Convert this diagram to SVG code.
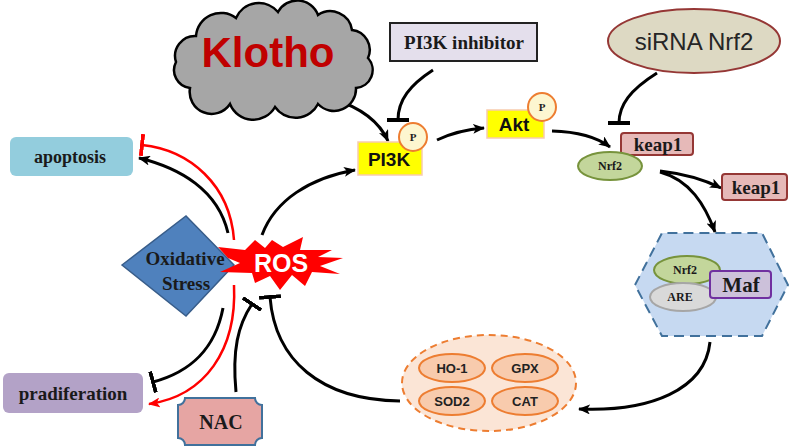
<svg xmlns="http://www.w3.org/2000/svg" width="800" height="447" viewBox="0 0 800 447">
<defs>
<style>
.serif{font-family:"Liberation Serif","DejaVu Serif",serif;font-weight:bold;fill:#1a1a1a;text-anchor:middle}
.sans{font-family:"Liberation Sans","DejaVu Sans",sans-serif;text-anchor:middle}
.con{fill:none;stroke:#000;stroke-width:3}
.red{fill:none;stroke:#ff0000;stroke-width:2.5}
.pcirc{fill:#fdf6d0;stroke:#ed7d31;stroke-width:2}
.ptxt{font-family:"Liberation Serif",serif;font-weight:bold;font-size:11px;fill:#222;text-anchor:middle}
.keap{fill:#e6b9b8;stroke:#953735;stroke-width:2}
.nrf{fill:#c3d69b;stroke:#77933c;stroke-width:2}
.enz{fill:#f8cbad;stroke:#ed7d31;stroke-width:2}
.enzt{font-family:"Liberation Sans",sans-serif;font-weight:bold;font-size:13px;fill:#222;text-anchor:middle}
</style>
<marker id="ah" viewBox="0 0 12 10" refX="11" refY="5" markerWidth="12" markerHeight="10" markerUnits="userSpaceOnUse" orient="auto">
<path d="M0,0 L12,5 L0,10 L3,5 Z" fill="#000"/>
</marker>
<marker id="ahr" viewBox="0 0 12 10" refX="11" refY="5" markerWidth="12" markerHeight="10" markerUnits="userSpaceOnUse" orient="auto">
<path d="M0,0 L12,5 L0,10 L3,5 Z" fill="#ff0000"/>
</marker>
<marker id="tb" viewBox="0 0 4 22" refX="2" refY="11" markerWidth="4" markerHeight="22" markerUnits="userSpaceOnUse" orient="auto">
<rect x="0" y="0" width="4" height="22" fill="#000"/>
</marker>
<marker id="tbr" viewBox="0 0 4 22" refX="2" refY="11" markerWidth="4" markerHeight="22" markerUnits="userSpaceOnUse" orient="auto">
<rect x="0" y="0" width="4" height="22" fill="#ff0000"/>
</marker>
</defs>
<rect width="800" height="447" fill="#fff"/>

<g id="connectors">
<path class="con" d="M333,99 Q375,112 388,141" marker-end="url(#ah)"/>
<path class="con" d="M433,70 C410,85 398,100 398,120" marker-end="url(#tb)"/>
<path class="con" d="M437,140 Q458,130 484,128" marker-end="url(#ah)"/>
<path class="con" d="M552,131 Q590,132 610,147" marker-end="url(#ah)"/>
<path class="con" d="M657,73 C630,90 619,105 619,123" marker-end="url(#tb)"/>
<path class="con" d="M660,171 Q695,175 721,188" marker-end="url(#ah)"/>
<path class="con" d="M660,172 C690,180 705,205 715,232" marker-end="url(#ah)"/>
<path class="con" d="M710,342 C705,390 650,412 579,409" marker-end="url(#ah)"/>
<path class="con" d="M400,401 C320,400 275,360 270,297" marker-end="url(#tb)"/>
<path class="con" d="M236,392 C232,350 238,325 252,304" marker-end="url(#tb)"/>
<path class="con" d="M262,235 C275,200 310,178 355,170" marker-end="url(#ah)"/>
<path class="con" d="M228,233 C218,190 180,168 139,158" marker-end="url(#ah)"/>
<path class="con" d="M223,308 C215,350 190,372 153,382" marker-end="url(#tb)"/>
<path class="red" d="M234,240 C230,185 190,150 142,145" marker-end="url(#tbr)"/>
<path class="red" d="M234,285 C237,350 205,396 149,404" marker-end="url(#ahr)"/>
</g>

<g id="klotho">
<path d="M190,88 A18,18 0 0 1 176,62 A20,20 0 0 1 196,36 A25,25 0 0 1 236,18 A25,25 0 0 1 278,12 A22,22 0 0 1 318,15 A22,22 0 0 1 352,30 A20,20 0 0 1 368,58 A18,18 0 0 1 356,88 A22,22 0 0 1 318,104 A25,25 0 0 1 275,107 A25,25 0 0 1 230,104 A22,22 0 0 1 190,88 Z" fill="#a6a6a6" stroke="#000" stroke-width="2.5"/>
<text class="sans" x="268" y="67" font-size="42" font-weight="bold" fill="#c00000">Klotho</text>
</g>

<g id="pi3k-inhibitor">
<rect x="390" y="23" width="147" height="38" fill="#e4dfec" stroke="#222" stroke-width="2"/>
<text class="serif" x="464" y="49" font-size="19">PI3K inhibitor</text>
</g>

<g id="sirna">
<ellipse cx="694" cy="41" rx="86" ry="32" fill="#ddd9c3" stroke="#953735" stroke-width="2"/>
<text class="sans" x="694" y="50" font-size="24" fill="#262626">siRNA Nrf2</text>
</g>

<g id="pi3k">
<rect x="358" y="142" width="64" height="33" fill="#ffff00" stroke="#f8cbad" stroke-width="1.5"/>
<text class="sans" x="389" y="166" font-size="19" font-weight="bold" fill="#111">PI3K</text>
<circle class="pcirc" cx="413" cy="137" r="14"/>
<text class="ptxt" x="413" y="141">P</text>
</g>

<g id="akt">
<rect x="487" y="110" width="57" height="28" fill="#ffff00" stroke="#f8cbad" stroke-width="1.5"/>
<text class="sans" x="514" y="131" font-size="19" font-weight="bold" fill="#111">Akt</text>
<circle class="pcirc" cx="542" cy="107" r="14"/>
<text class="ptxt" x="542" y="111">P</text>
</g>

<g id="keap1-a">
<rect class="keap" x="621" y="133" width="72" height="22" rx="3"/>
<text class="serif" x="658" y="151" font-size="19">keap1</text>
</g>

<g id="nrf2">
<ellipse class="nrf" cx="610" cy="166" rx="32" ry="14"/>
<text class="serif" x="610" y="170" font-size="12">Nrf2</text>
</g>

<g id="keap1-b">
<rect class="keap" x="722" y="174" width="65" height="26" rx="3"/>
<text class="serif" x="756" y="194" font-size="19">keap1</text>
</g>

<g id="complex">
<polygon points="635,285 662,233 762,233 788,285 762,336 662,336" fill="#c6d9f1" stroke="#41719c" stroke-width="2" stroke-dasharray="10,6"/>
<ellipse class="nrf" cx="687" cy="270" rx="33" ry="14"/>
<text class="serif" x="685" y="274" font-size="12">Nrf2</text>
<ellipse cx="683" cy="297" rx="33" ry="14" fill="#d9d9d9" stroke="#a6a6a6" stroke-width="2"/>
<text class="serif" x="680" y="301" font-size="12">ARE</text>
<rect x="710" y="271" width="61" height="27" rx="3" fill="#ccc1da" stroke="#7030a0" stroke-width="2"/>
<text class="serif" x="741" y="292" font-size="21">Maf</text>
</g>

<g id="enzymes">
<ellipse cx="489" cy="383" rx="87" ry="48" fill="#fbe5d6" stroke="#ed7d31" stroke-width="2" stroke-dasharray="7,5"/>
<ellipse class="enz" cx="452" cy="368" rx="33" ry="14"/>
<text class="enzt" x="452" y="373">HO-1</text>
<ellipse class="enz" cx="525" cy="368" rx="33" ry="14"/>
<text class="enzt" x="525" y="373">GPX</text>
<ellipse class="enz" cx="452" cy="401" rx="33" ry="14"/>
<text class="enzt" x="452" y="406">SOD2</text>
<ellipse class="enz" cx="525" cy="401" rx="33" ry="14"/>
<text class="enzt" x="525" y="406">CAT</text>
</g>

<g id="apoptosis">
<rect x="10" y="137" width="123" height="39" rx="6" fill="#93cddd"/>
<text class="serif" x="70" y="163" font-size="18">apoptosis</text>
</g>

<g id="pradiferation">
<rect x="3" y="373" width="140" height="40" rx="6" fill="#b3a2c7"/>
<text class="serif" x="73" y="400" font-size="19">pradiferation</text>
</g>

<g id="nac">
<path d="M185,398 L255,398 A7,7 0 0 0 262,405 L262,438 A7,7 0 0 0 255,445 L185,445 A7,7 0 0 0 178,438 L178,405 A7,7 0 0 0 185,398 Z" fill="#e6a5a3" stroke="#41719c" stroke-width="2"/>
<text class="serif" x="221" y="429" font-size="20">NAC</text>
</g>

<g id="oxidative-stress">
<polygon points="122,265 186,216 234,265 186,316" fill="#4f81bd" stroke="#385d8a" stroke-width="1.5"/>
<text class="serif" x="185" y="265" font-size="19">Oxidative</text>
<text class="serif" x="186" y="290" font-size="19">Stress</text>
</g>

<g id="ros">
<polygon points="218,247 245,250 255,240 265,248 272,240 283,247 303,237 300,250 332,250 318,257 343,258 320,266 340,274 312,272 305,286 292,275 280,290 270,276 255,283 252,273 220,272 240,263 228,258" fill="#ff0000"/>
<text class="sans" x="281" y="272" font-size="25" font-weight="bold" fill="#fff">ROS</text>
</g>
</svg>
